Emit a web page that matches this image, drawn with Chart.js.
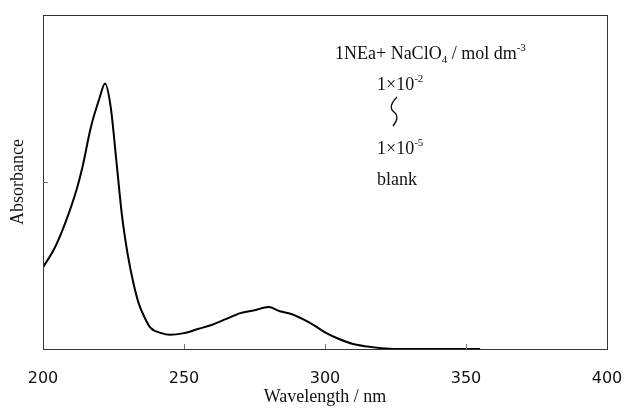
<!DOCTYPE html>
<html>
<head>
<meta charset="utf-8">
<script src="https://cdn.jsdelivr.net/npm/chart.js@4"></script>
<style>
  html, body { margin: 0; padding: 0; background: #fff; }
  #wrap { width: 624px; height: 408px; }
</style>
</head>
<body>
<div id="wrap"><canvas id="spectrum" width="624" height="408"></canvas></div>
<script>
// wavelength (nm) and absorbance
const wavelengths = [200, 204, 208, 212, 214, 217, 220, 222, 224, 226, 228, 230, 232, 234, 236, 238,
  242, 245, 250, 255, 260, 265, 270, 275, 280, 284, 288, 292, 296, 300, 305, 310, 315, 320, 325, 340, 355];
const absorbance = [0.49, 0.60, 0.76, 0.96, 1.09, 1.33, 1.50, 1.59, 1.45, 1.13, 0.80, 0.57, 0.40, 0.27, 0.19, 0.13,
  0.095, 0.085, 0.095, 0.12, 0.145, 0.18, 0.215, 0.232, 0.252, 0.226, 0.21, 0.18, 0.143, 0.10, 0.06, 0.03, 0.015, 0.005, 0.0, 0.0, 0.0];

const xTicks = [200, 250, 300, 350, 400];
const yTicks = [0, 1, 2];

const points = wavelengths.map((w, i) => ({ x: w, y: absorbance[i] }));

const serif = '"Liberation Serif", "Times New Roman", serif';

// frame + inward tick marks
const framePlugin = {
  id: 'frame',
  afterDraw(chart) {
    const { ctx, chartArea: a, scales } = chart;
    ctx.save();
    ctx.strokeStyle = '#333';
    ctx.lineWidth = 1;
    ctx.strokeRect(a.left + 0.5, a.top + 0.5, a.right - a.left, a.bottom - a.top);
    ctx.strokeStyle = '#777';
    ctx.beginPath();
    xTicks.slice(1, -1).forEach(v => {
      const px = Math.round(scales.x.getPixelForValue(v)) + 0.5;
      ctx.moveTo(px, a.bottom);
      ctx.lineTo(px, a.bottom - 5);
    });
    yTicks.slice(1, -1).forEach(v => {
      const py = Math.round(scales.y.getPixelForValue(v)) + 0.5;
      ctx.moveTo(a.left, py);
      ctx.lineTo(a.left + 5, py);
    });
    ctx.stroke();
    ctx.restore();
  }
};

// legend-like note in the top right
const notePlugin = {
  id: 'note',
  afterDraw(chart) {
    const ctx = chart.ctx;
    ctx.save();
    ctx.fillStyle = '#111';
    ctx.textBaseline = 'alphabetic';
    const big = '18px ' + serif;
    const small = '11px ' + serif;
    function run(parts, x, y) {
      parts.forEach(p => {
        ctx.font = p.s ? small : big;
        const dy = p.s === 'sup' ? -8 : p.s === 'sub' ? 4 : 0;
        ctx.fillText(p.t, x, y + dy);
        x += ctx.measureText(p.t).width;
      });
    }
    run([{ t: '1NEa+ NaClO' }, { t: '4', s: 'sub' }, { t: ' / mol dm' }, { t: '-3', s: 'sup' }], 335, 59);
    run([{ t: '1×10' }, { t: '-2', s: 'sup' }], 377, 90);
    run([{ t: '1×10' }, { t: '-5', s: 'sup' }], 377, 154);
    run([{ t: 'blank' }], 377, 185);
    // wavy connector
    ctx.strokeStyle = '#111';
    ctx.lineWidth = 1.3;
    ctx.beginPath();
    ctx.moveTo(397, 97);
    ctx.bezierCurveTo(390, 104, 390, 109, 394, 112);
    ctx.bezierCurveTo(398, 115, 398, 120, 393, 126);
    ctx.stroke();
    ctx.restore();
  }
};

new Chart(document.getElementById('spectrum'), {
  type: 'line',
  data: {
    datasets: [{
      data: points,
      borderColor: '#000',
      borderWidth: 2,
      pointRadius: 0,
      fill: false,
      cubicInterpolationMode: 'monotone'
    }]
  },
  options: {
    responsive: false,
    animation: false,
    layout: { padding: { top: 15, right: 17, left: 0, bottom: 0 } },
    plugins: { legend: { display: false }, tooltip: { enabled: false } },
    scales: {
      x: {
        type: 'linear',
        min: 200,
        max: 400,
        afterFit: s => { s.height = 59; s.paddingLeft = 0; s.paddingRight = 0; },
        afterBuildTicks: s => { s.ticks = xTicks.map(v => ({ value: v })); },
        grid: { display: false },
        border: { display: false },
        ticks: { color: '#111', padding: 12, maxRotation: 0, font: { family: '"DejaVu Sans", sans-serif', size: 16 } },
        title: { display: true, text: 'Wavelength / nm', color: '#111', padding: { top: 0, bottom: 0 }, font: { family: serif, size: 18 } }
      },
      y: {
        min: 0,
        max: 2,
        afterFit: s => { s.width = 43; s.paddingTop = 0; s.paddingBottom = 0; },
        afterBuildTicks: s => { s.ticks = yTicks.map(v => ({ value: v })); },
        grid: { display: false },
        border: { display: false },
        ticks: { display: false },
        title: { display: true, text: 'Absorbance', color: '#111', padding: { top: 7, bottom: 0 }, font: { family: serif, size: 18 } }
      }
    }
  },
  plugins: [framePlugin, notePlugin]
});
</script>
</body>
</html>
